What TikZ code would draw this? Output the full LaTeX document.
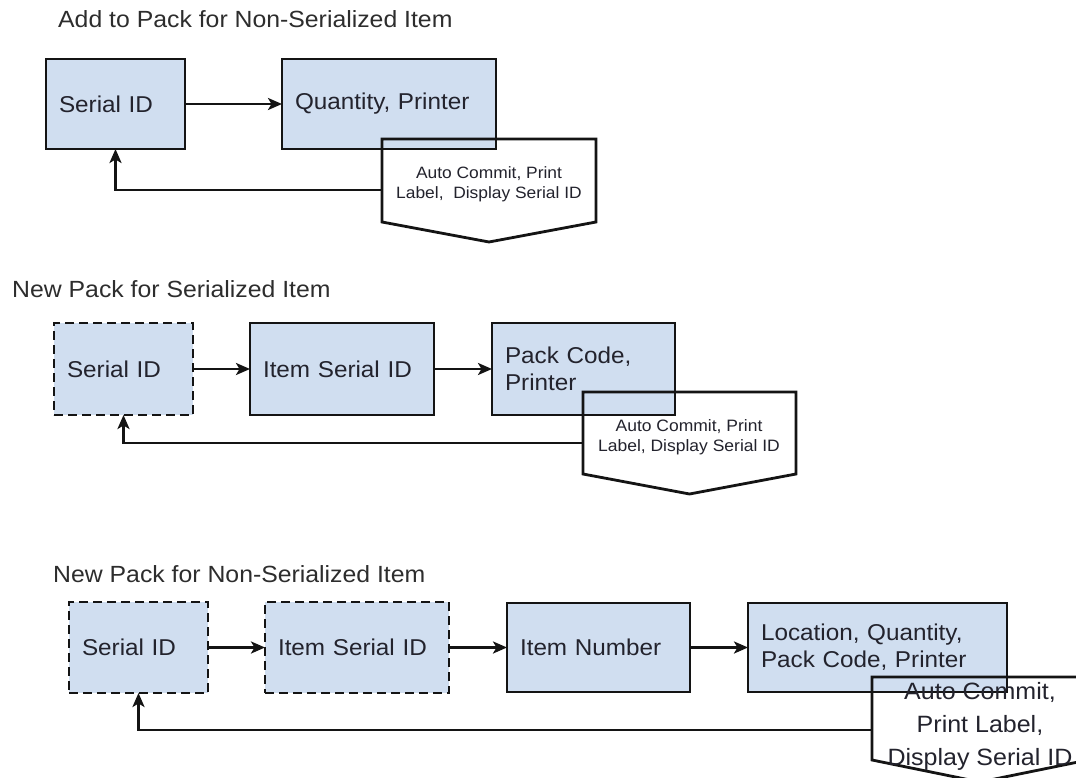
\documentclass[tikz,border=0pt]{standalone}
\usepackage{fontspec}
\setmainfont[FakeStretch=1.06]{Liberation Sans}
\usetikzlibrary{arrows.meta,calc}
\definecolor{boxfill}{RGB}{208,222,240}
\definecolor{linec}{RGB}{20,20,20}
\definecolor{txtc}{RGB}{35,35,45}
\definecolor{titlec}{RGB}{45,45,45}
\begin{document}
\begin{tikzpicture}[x=1pt,y=-1pt,
  box/.style={draw=linec, fill=boxfill, line width=2.8pt, inner xsep=13pt, inner ysep=0pt, outer sep=0pt,
    align=left, text=txtc, anchor=north west, font=\fontsize{22.9}{27}\selectfont},
  dbox/.style={box, dash pattern=on 9pt off 5pt},
  arr/.style={draw=linec, line width=2.8pt, -{Stealth[length=14pt,width=12pt,inset=3.5pt]}},
  ttl/.style={anchor=base west, text=titlec, font=\fontsize{23.4}{28}\selectfont, inner sep=0pt},
  ocbox/.style={anchor=north west, inner sep=0pt, outer sep=0pt, draw=none},
  ocline/.style={draw=linec, line width=2.8pt, line join=miter},
  octext/.style={align=center, text=txtc, inner sep=0pt}
]
\useasboundingbox (0,0) rectangle (1076,778);
\fill[white] (0,0) rectangle (1076,778);
\clip (0,0) rectangle (1076,778);

% ---------- Row 1 ----------
\node[ttl] (title1) at (58,28) {Add to Pack for Non-Serialized Item};
\node[box, minimum width=139pt, minimum height=90pt, text width=113pt] (b1) at (46,59) {Serial ID};
\node[box, minimum width=214pt, minimum height=90pt, text width=188pt] (b2) at (282,59) {Quantity, Printer};
\draw[arr] (b1.east) -- (b2.west);
\node[ocbox, minimum width=214pt, minimum height=83pt] (oc1) at (382,139) {};
\draw[ocline] (oc1.north west) -- (oc1.north east) -- (oc1.south east) -- ($(oc1.south)+(0,20)$) -- (oc1.south west) -- cycle;
\node[octext, font=\fontsize{16.4}{20}\selectfont] (t1) at (489,184) {Auto Commit, Print\\Label,\ \ Display Serial ID};
\coordinate (f1) at (382,190);
\draw[arr] (f1) -| (b1.south);

% ---------- Row 2 ----------
\node[ttl] (title2) at (12,297) {New Pack for Serialized Item};
\node[dbox, minimum width=139pt, minimum height=92pt, text width=113pt] (c1) at (54,323) {Serial ID};
\node[box, minimum width=184pt, minimum height=92pt, text width=158pt] (c2) at (250,323) {Item Serial ID};
\node[box, minimum width=183pt, minimum height=92pt, text width=157pt] (c3) at (492,323) {Pack Code,\\Printer};
\draw[arr] (c1.east) -- (c2.west);
\draw[arr] (c2.east) -- (c3.west);
\node[ocbox, minimum width=213pt, minimum height=82pt] (oc2) at (583,392) {};
\draw[ocline] (oc2.north west) -- (oc2.north east) -- (oc2.south east) -- ($(oc2.south)+(0,20)$) -- (oc2.south west) -- cycle;
\node[octext, font=\fontsize{16.5}{20}\selectfont] (t2) at (689,437) {Auto Commit, Print\\Label, Display Serial ID};
\coordinate (f2) at (583,443);
\draw[arr] (f2) -| (c1.south);

% ---------- Row 3 ----------
\node[ttl] (title3) at (53,582) {New Pack for Non-Serialized Item};
\node[dbox, minimum width=139pt, minimum height=91pt, text width=113pt] (d1) at (69,602) {Serial ID};
\node[dbox, minimum width=184pt, minimum height=91pt, text width=158pt] (d2) at (265,602) {Item Serial ID};
\node[box, minimum width=183pt, minimum height=89pt, text width=157pt] (d3) at (507,603) {Item Number};
\node[box, minimum width=259pt, minimum height=89pt, text width=233pt] (d4) at (748,603) {Location, Quantity,\\Pack Code, Printer};
\draw[arr] (d1.east) -- (d2.west);
\draw[arr] (d2.east) -- (d3.west);
\draw[arr] (d3.east) -- (d4.west);
\node[ocbox, minimum width=216pt, minimum height=83pt] (oc3) at (872,677) {};
\draw[ocline] (oc3.north west) -- (oc3.north east) -- (oc3.south east) -- ($(oc3.south)+(0,22)$) -- (oc3.south west) -- cycle;
\node[octext, font=\fontsize{23.6}{33}\selectfont] (t3) at (980,726) {Auto Commit,\\Print Label,\\Display Serial ID};
\coordinate (f3) at (872,730);
\draw[arr] (f3) -| (d1.south);
\end{tikzpicture}
\end{document}
